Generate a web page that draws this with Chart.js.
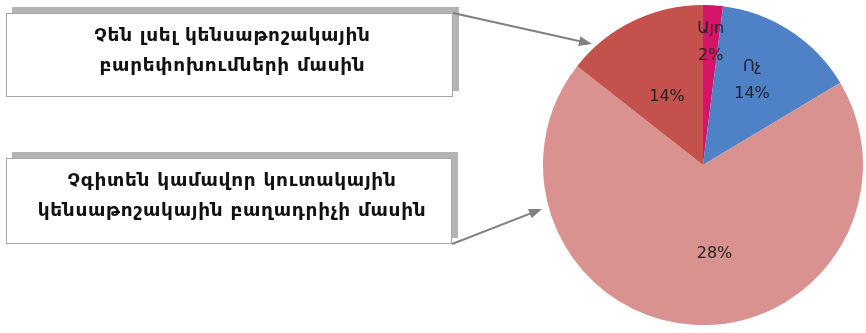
<!DOCTYPE html>
<html>
<head>
<meta charset="utf-8">
<script src="https://cdn.jsdelivr.net/npm/chart.js@4"></script>
<style>
  html, body { margin: 0; padding: 0; background: #fff; }
  #wrap { width: 866px; height: 333px; }
</style>
</head>
<body>
<div id="wrap"><canvas id="pie"></canvas></div>
<script>
// slices clockwise from the top
var categories = ['Այո', 'Ոչ', 'Չգիտեն կամավոր կուտակային կենսաթոշակային բաղադրիչի մասին', 'Չեն լսել կենսաթոշակային բարեփոխումների մասին']
var values = [2, 14.4, 69.2, 14.4]
var shown_labels = [['Այո', '2%'], ['Ոչ', '14%'], ['28%'], ['14%']]
var slice_colors = ['#d6146a', '#4f81c6', '#d9928f', '#c5514d']

// callout boxes pointing at slices
var callouts = [
    { lines: ['Չեն լսել կենսաթոշակային', 'բարեփոխումների մասին'], box: [6, 13, 447, 84], from: [453, 13], to: [592, 44] },
    { lines: ['Չգիտեն կամավոր կուտակային', 'կենսաթոշակային բաղադրիչի մասին'], box: [6, 158, 446, 86], from: [452, 244], to: [542, 209] }
]

// where each label sits inside its slice (fraction of radius, angle shift in degrees)
var label_pos = [[0.77, 0], [0.61, -3], [0.56, -11], [0.48, -2]]

const calloutPlugin = {
    id: 'callouts',
    afterDraw(chart) {
        const ctx = chart.ctx
        ctx.save()
        callouts.forEach(c => {
            let [x, y, w, h] = c.box
            ctx.fillStyle = '#b4b4b4'
            ctx.fillRect(x + 6, y - 6, w, h)
            ctx.fillStyle = '#ffffff'
            ctx.fillRect(x, y, w, h)
            ctx.strokeStyle = '#a8a8a8'
            ctx.lineWidth = 1
            ctx.strokeRect(x + 0.5, y + 0.5, w - 1, h - 1)
            ctx.fillStyle = '#111'
            ctx.font = 'bold 18.5px "DejaVu Sans"'
            ctx.letterSpacing = '0.7px'
            ctx.textAlign = 'center'
            ctx.textBaseline = 'alphabetic'
            c.lines.forEach((t, i) => {
                ctx.fillText(t, x + w / 2 + 3, y + 28 + i * 30)
            })
            ctx.letterSpacing = '0px'
            // arrow
            let [x1, y1] = c.from
            let [x2, y2] = c.to
            let a = Math.atan2(y2 - y1, x2 - x1)
            ctx.strokeStyle = '#808080'
            ctx.fillStyle = '#808080'
            ctx.lineWidth = 2
            ctx.beginPath()
            ctx.moveTo(x1, y1)
            ctx.lineTo(x2 - 10 * Math.cos(a), y2 - 10 * Math.sin(a))
            ctx.stroke()
            ctx.beginPath()
            ctx.moveTo(x2, y2)
            ctx.lineTo(x2 - 13 * Math.cos(a) + 5 * Math.sin(a), y2 - 13 * Math.sin(a) - 5 * Math.cos(a))
            ctx.lineTo(x2 - 13 * Math.cos(a) - 5 * Math.sin(a), y2 - 13 * Math.sin(a) + 5 * Math.cos(a))
            ctx.closePath()
            ctx.fill()
        })
        ctx.restore()
    }
}

const sliceLabels = {
    id: 'sliceLabels',
    afterDatasetsDraw(chart) {
        const ctx = chart.ctx
        const meta = chart.getDatasetMeta(0)
        ctx.save()
        ctx.font = '16px "DejaVu Sans"'
        ctx.fillStyle = '#222'
        ctx.textAlign = 'center'
        ctx.textBaseline = 'middle'
        meta.data.forEach((arc, i) => {
            let p = arc.getProps(['x', 'y', 'startAngle', 'endAngle', 'outerRadius'], true)
            let mid = (p.startAngle + p.endAngle) / 2 + label_pos[i][1] * Math.PI / 180
            let r = p.outerRadius * label_pos[i][0]
            let cx = p.x + Math.cos(mid) * r
            let cy = p.y + Math.sin(mid) * r
            let lines = shown_labels[i]
            lines.forEach((t, j) => {
                ctx.fillText(t, cx, cy + (j - (lines.length - 1) / 2) * 27)
            })
        })
        ctx.restore()
    }
}

function generate_pie() {
    const ctx = document.getElementById('pie').getContext('2d')
    new Chart(ctx, {
        type: 'pie',
        data: {
            labels: categories,
            datasets: [{
                data: values,
                backgroundColor: slice_colors,
                borderWidth: 0
            }]
        },
        options: {
            responsive: true,
            maintainAspectRatio: false,
            animation: false,
            layout: { padding: { left: 543, right: 3, top: 5, bottom: 8 } },
            plugins: {
                legend: { display: false },
                tooltip: { enabled: false }
            }
        },
        plugins: [calloutPlugin, sliceLabels]
    })
}

generate_pie()
</script>
</body>
</html>
